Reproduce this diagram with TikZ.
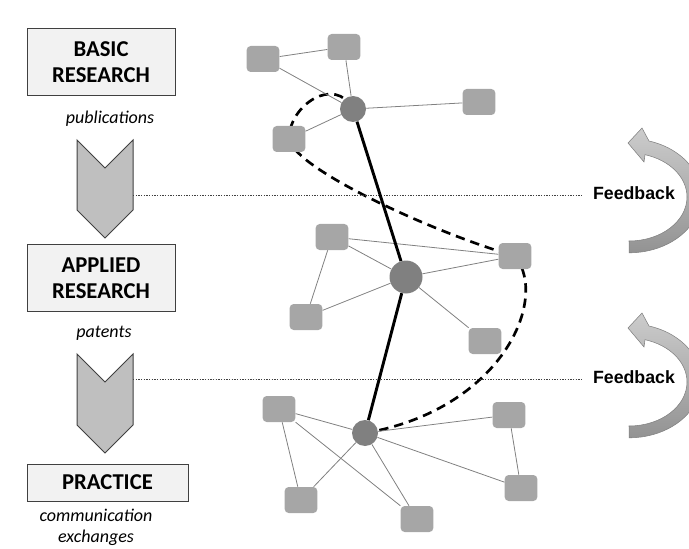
\documentclass[tikz,border=0pt]{standalone}
\usepackage{fontspec}
\setmainfont{Carlito}
\newfontfamily\arialfont{Liberation Sans}
\usetikzlibrary{backgrounds}

\definecolor{boxfill}{RGB}{242,242,242}
\definecolor{boxline}{RGB}{64,64,64}
\definecolor{sqfill}{RGB}{166,166,166}
\definecolor{hubfill}{RGB}{128,128,128}
\definecolor{chevfill}{RGB}{191,191,191}

\tikzset{
  stagebox/.style={draw=boxline, fill=boxfill, line width=0.75pt, inner sep=0pt,
    align=center, font=\fontsize{17}{19.5}\selectfont\bfseries},
  outputlabel/.style={inner sep=0pt, align=center, font=\fontsize{13.5}{15.75}\selectfont\itshape},
  actor/.style={fill=sqfill, rounded corners=3pt, minimum width=24.5pt, minimum height=19.5pt, inner sep=0pt},
  hub/.style={circle, fill=hubfill, minimum size=19.5pt, inner sep=0pt},
  link/.style={draw=hubfill, line width=0.6pt},
  mainlink/.style={draw=black, line width=2.2pt},
  fbline/.style={draw=boxline, line width=0.6pt, dash pattern=on 1pt off 1pt},
  chevron/.style={draw=boxline, fill=chevfill, line width=0.75pt},
  fbarrow/.style={draw=gray, line width=0.4pt, top color=gray!40, bottom color=gray!85}
}

\begin{document}
\begin{tikzpicture}[x=0.75pt,y=0.75pt,yscale=-1,xscale=1]
\useasboundingbox (0,0) rectangle (689,549);

% Stage boxes
\node [stagebox, minimum width=111pt, minimum height=50.25pt] (boxBasic) at (101,62.5) {BASIC\\RESEARCH};
\node [stagebox, minimum width=111pt, minimum height=50.25pt] (boxApplied) at (101,278) {APPLIED\\RESEARCH};
\node [stagebox, minimum width=120.75pt, minimum height=27.75pt] (boxPractice) at (107.5,482.5) {PRACTICE};

% Text Node
\node [outputlabel] (outBasic) at (110,119) {publications};
% Text Node
\node [outputlabel] (outApplied) at (104,333) {patents};
% Text Node
\node [outputlabel] (outPractice) at (96,527) {communication\\exchanges};

% Chevrons
\draw [chevron] (77,140) -- (105,168) -- (133,140) -- (133,210) -- (105,238) -- (77,210) -- cycle;
\draw [chevron] (77,354) -- (105,382) -- (133,354) -- (133,425) -- (105,453) -- (77,425) -- cycle;
\coordinate (chevBasic) at (133,195);
\coordinate (chevApplied) at (133,379);

% Feedback
\node [inner sep=0pt, font=\arialfont\fontsize{13.3}{15}\selectfont\bfseries] (fbBasic) at (634,193) {Feedback};
\node [inner sep=0pt, font=\arialfont\fontsize{13.3}{15}\selectfont\bfseries] (fbApplied) at (634,377) {Feedback};
\draw [fbline, shorten >=7pt] (chevBasic) -- (chevBasic -| fbBasic.west);
\draw [fbline, shorten >=7pt] (chevApplied) -- (chevApplied -| fbApplied.west);

% Curved arrows
\foreach \dy in {0,185}{
  \begin{scope}[shift={(0,\dy)}]
    \path [fbarrow] (629,241) arc[start angle=90, end angle=-74, x radius=58, y radius=44]
      -- (644,162) -- (628,143) -- (642,128) -- (649,141)
      arc[start angle=-74, end angle=90, x radius=72, y radius=57] -- cycle;
  \end{scope}
}

% Basic research network
\node [actor] (nb1) at (263,59) {};
\node [actor] (nb2) at (344,47) {};
\node [actor] (nb3) at (479,102) {};
\node [actor] (nb4) at (289,139) {};
\node [hub] (hubB) at (353,109) {};

% Applied research network
\node [actor] (na1) at (332,237) {};
\node [actor] (na2) at (515,256) {};
\node [actor] (na3) at (306,317) {};
\node [actor] (na4) at (485,341) {};
\node [hub, minimum size=24.75pt] (hubA) at (406,277) {};

% Practice network
\node [actor] (np1) at (279,409) {};
\node [actor] (np2) at (509,415) {};
\node [actor] (np3) at (301,500) {};
\node [actor] (np4) at (521,488) {};
\node [actor] (np5) at (417,519) {};
\node [hub] (hubP) at (365,433) {};

% Links
\draw [link] (nb1) -- (nb2);
\draw [link] (nb1) -- (hubB);
\draw [link] (nb2) -- (hubB);
\draw [link] (hubB) -- (nb3);
\draw [link] (hubB) -- (nb4);
\draw [link] (na1) -- (hubA);
\draw [link] (na1) -- (na2);
\draw [link] (na1) -- (na3);
\draw [link] (hubA) -- (na2);
\draw [link] (hubA) -- (na3);
\draw [link] (hubA) -- (na4);
\draw [link] (np1) -- (hubP);
\draw [link] (np1) -- (np3);
\draw [link] (np1) -- (np5);
\draw [link] (hubP) -- (np3);
\draw [link] (hubP) -- (np5);
\draw [link] (hubP) -- (np2);
\draw [link] (hubP) -- (np4);
\draw [link] (np2) -- (np4);

\draw [mainlink] (hubB) -- (hubA);
\draw [mainlink] (hubA) -- (hubP);

% Dashed path
\begin{scope}[on background layer]
\draw [line width=2pt, dash pattern=on 7pt off 4.5pt]
  (hubB.center) .. controls (335,75) and (289,105) .. (nb4.center)
  .. controls (295,170) and (440,235) .. (na2.center)
  .. controls (550,300) and (500,410) .. (hubP.center);
\end{scope}

\end{tikzpicture}
\end{document}
